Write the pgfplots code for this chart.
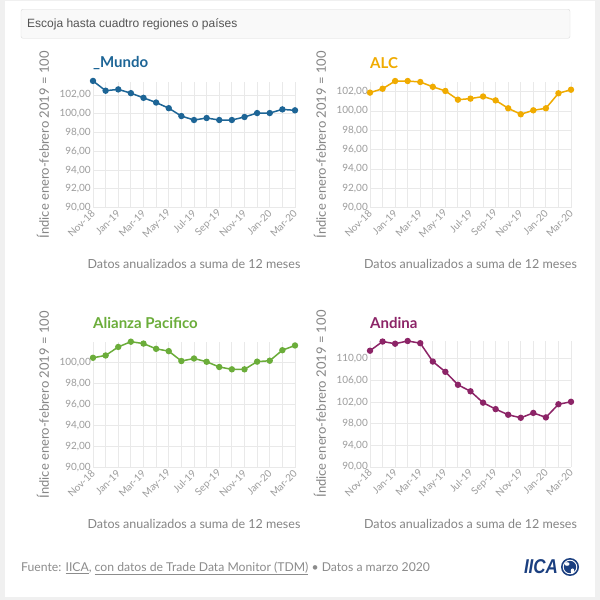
\documentclass[border=0pt]{standalone}
\usepackage{pgfplots}
\pgfplotsset{compat=1.18}
\usepackage{fontspec}
\setmainfont{Lato}
\newfontfamily\arialfont{Liberation Sans}
\definecolor{mundo}{HTML}{1D6596}
\definecolor{alc}{HTML}{F0AB00}
\definecolor{ap}{HTML}{6BAD3A}
\definecolor{andina}{HTML}{8C2467}
\definecolor{gridc}{HTML}{E9E9E9}
\definecolor{tickc}{HTML}{9C9C9C}
\definecolor{labc}{HTML}{858585}
\definecolor{iica}{HTML}{1B3F80}
\pgfplotsset{
  panel/.style={
    scale only axis, width=202pt, height=126pt,
    anchor=south west, clip=false,
    xmin=0, xmax=16, ymin=90,
    xtick={0,2,...,16},
    xticklabels={Nov-18,Jan-19,Mar-19,May-19,Jul-19,Sep-19,Nov-19,Jan-20,Mar-20},
    minor xtick={1,3,...,15},
    xmajorgrids, xminorgrids, ymajorgrids,
    grid style={gridc, line width=0.9pt},
    minor grid style={gridc, line width=0.9pt},
    axis line style={draw=none},
    major tick length=0pt, minor tick length=0pt,
    xticklabel style={rotate=45, anchor=east, font=\fontsize{10}{12}\selectfont, text=tickc, inner sep=0.5pt, xshift=-2pt, yshift=-3pt},
    yticklabel style={font=\fontsize{10}{12}\selectfont, text=tickc, inner sep=2pt},
    yticklabel style={/pgf/number format/.cd, fixed, fixed zerofill, precision=2, use comma, 1000 sep={}, assume math mode=true},
    xlabel={Datos anualizados a suma de 12 meses},
    every axis x label/.style={at={(axis description cs:0.5,0)}, anchor=center, yshift=-56.5pt, font=\fontsize{12.5}{14}\selectfont, text=labc},
    ylabel={Índice enero-febrero 2019 = 100},
    every axis y label/.style={at={(axis description cs:0,0.5)}, rotate=90, anchor=center, yshift=50pt, font=\fontsize{13}{15}\selectfont, text=labc},
    every axis title/.style={at={(axis description cs:0,1)}, anchor=west, inner sep=0pt, yshift=18.5pt, font=\bfseries\fontsize{15}{17}\selectfont},
    every axis plot/.append style={line width=1.5pt, mark=*, mark size=2.4pt},
  },
}
\begin{document}
\begin{tikzpicture}
\useasboundingbox (0pt,0pt) rectangle (600pt,600pt);
\fill[black!6] (0pt,0pt) rectangle (600pt,600pt);
\fill[white] (5pt,3pt) rectangle (595pt,599pt);
\filldraw[fill=black!2.5, draw=black!14, rounded corners=2pt] (21pt,590.7pt) rectangle (570pt,561.7pt);
\node[anchor=west, inner sep=0pt, text=black!67] at (27pt,576pt) {\arialfont\fontsize{12}{14}\selectfont Escoja hasta cuadtro regiones o países};

% Mundo
\begin{axis}[panel, at={(93pt,392.3pt)}, ymax=103.42, ytick={90,92,...,102}, title={\textcolor{mundo}{\_Mundo}}]
\addplot[color=mundo] coordinates {
(0,103.5) (1,102.46) (2,102.6) (3,102.2) (4,101.7) (5,101.2) (6,100.6) (7,99.76) (8,99.34)
(9,99.55) (10,99.34) (11,99.34) (12,99.66) (13,100.08) (14,100.08) (15,100.47) (16,100.37)};
\end{axis}

% ALC
\begin{axis}[panel, width=201pt, at={(370pt,392.3pt)}, ymax=103.03, ytick={90,92,...,102}, title={\textcolor{alc}{ALC}}]
\addplot[color=alc] coordinates {
(0,101.9) (1,102.3) (2,103.1) (3,103.1) (4,103.0) (5,102.5) (6,102.07) (7,101.17) (8,101.28)
(9,101.5) (10,101.1) (11,100.28) (12,99.66) (13,100.07) (14,100.28) (15,101.83) (16,102.2)};
\end{axis}

% Alianza Pacifico
\begin{axis}[panel, at={(93pt,132.3pt)}, ymax=102.0, ytick={90,92,...,100}, title={\textcolor{ap}{Alianza Pacifico}}]
\addplot[color=ap] coordinates {
(0,100.47) (1,100.69) (2,101.5) (3,102.0) (4,101.82) (5,101.32) (6,101.1) (7,100.16) (8,100.4)
(9,100.09) (10,99.59) (11,99.37) (12,99.37) (13,100.1) (14,100.19) (15,101.19) (16,101.64)};
\end{axis}

% Andina
\begin{axis}[panel, width=201pt, at={(370pt,133pt)}, ymax=113.3, ytick={90,94,...,110}, title={\textcolor{andina}{Andina}}]
\addplot[color=andina] coordinates {
(0,111.5) (1,113.2) (2,112.8) (3,113.3) (4,112.9) (5,109.5) (6,107.6) (7,105.2) (8,104.0)
(9,101.9) (10,100.7) (11,99.66) (12,99.1) (13,100.0) (14,99.17) (15,101.6) (16,102.06)};
\end{axis}

% footer
\node[anchor=west, inner sep=0pt, text=black!45] at (21pt,31.5pt) {\fontsize{12.2}{14}\selectfont Fuente: \underline{IICA}, \underline{con datos de Trade Data Monitor (TDM)} • Datos a marzo 2020};
\node[anchor=center, inner sep=0pt, text=iica] at (541pt,33pt) {\scalebox{0.85}[1]{\arialfont\bfseries\itshape\fontsize{20}{22}\selectfont IICA}};
\fill[iica] (570pt,33pt) circle (9pt);
\draw[white, line width=0.9pt] (570pt,33pt) circle (6.8pt);
\fill[white] (567pt,36pt) ellipse (2.5pt and 1.8pt);
\fill[white] (572.5pt,29pt) ellipse (1.8pt and 2.6pt);
\end{tikzpicture}
\end{document}
